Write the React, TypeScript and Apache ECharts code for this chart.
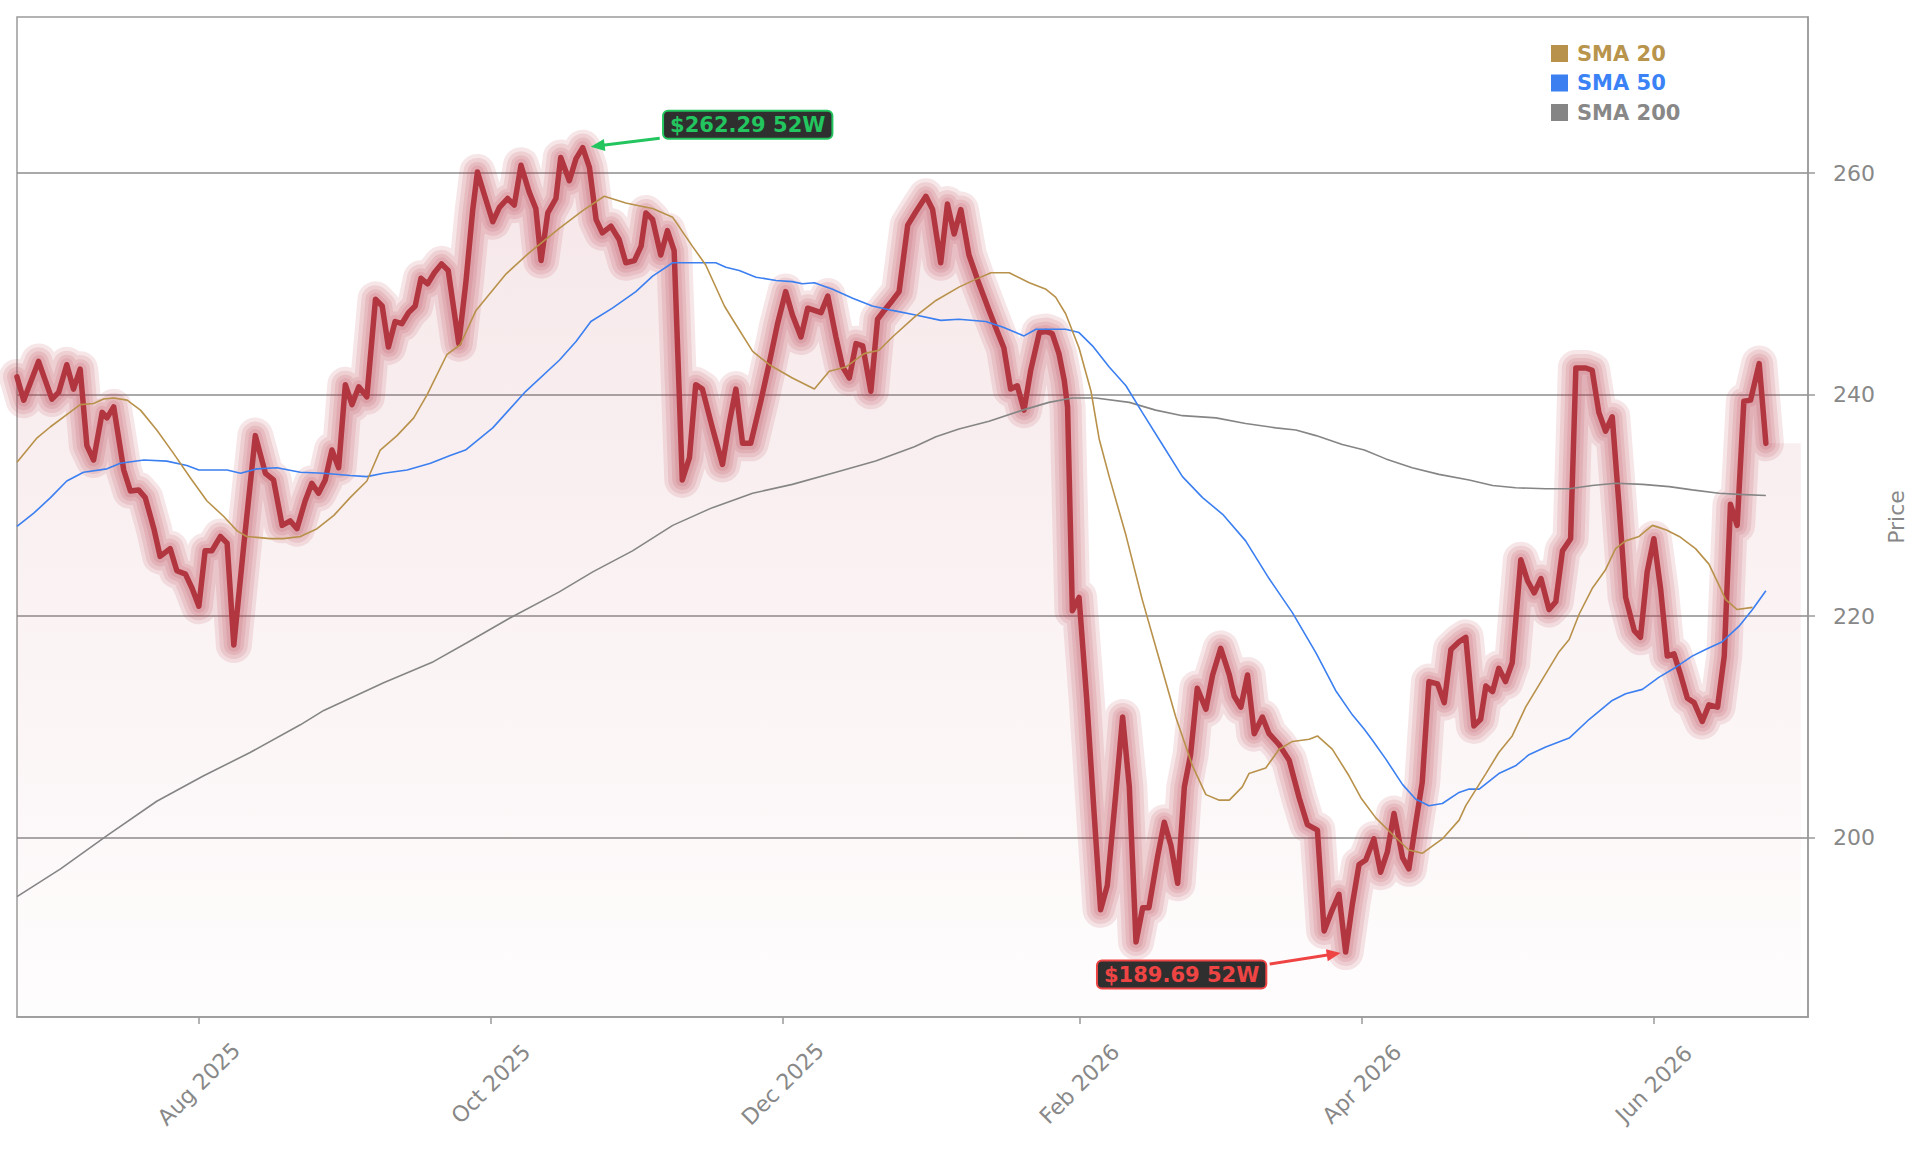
import React, { useEffect, useRef } from 'react';
import * as echarts from 'echarts';

// x values are days since 2025-06-24
const START_UTC = Date.UTC(2025, 5, 24);
const DAY_MS = 86400000;

const priceDays = [
  0, 1.4, 4.5, 7.3, 8.7, 10.4, 11.8, 13.2, 14.6, 16.0, 17.8, 18.8, 20.2, 22.3, 23.7, 25.4, 26.8, 28.6, 29.9, 32.0,
  33.4, 35.2, 36.6, 38.0, 39.3, 40.7, 42.5, 43.9, 45.3, 47.4, 49.8, 51.9, 53.6, 55.4, 57.1, 58.5, 60.2, 61.6, 63.0, 64.4,
  65.8, 67.2, 68.6, 70.0, 71.4, 73.1, 74.9, 76.3, 77.6, 79.0, 80.4, 81.8, 83.2, 84.4, 85.8, 87.2, 88.7, 90.1, 92.3, 93.8,
  95.2, 96.2, 97.6, 99.4, 100.8, 102.5, 103.9, 105.3, 107.0, 108.4, 109.5, 110.9, 112.6, 113.6, 115.4, 116.8, 118.2, 119.6, 121.0, 122.3,
  124.1, 125.8, 127.2, 129.0, 130.4, 131.4, 132.8, 134.5, 135.9, 137.3, 139.0, 140.5, 141.8, 143.2, 145.3, 147.4, 148.8, 150.2, 151.6, 153.3,
  155.4, 157.2, 158.9, 160.6, 162.0, 163.8, 165.2, 166.6, 168.0, 169.4, 171.1, 172.5, 173.9, 175.3, 176.7, 178.4, 179.8, 181.2, 182.9, 184.3,
  186.1, 187.8, 189.9, 191.3, 193.0, 194.4, 195.8, 197.2, 198.9, 201.0, 203.1, 204.9, 206.2, 207.6, 209.0, 210.4, 211.8, 213.6, 215.0, 216.3,
  217.7, 218.8, 219.5, 220.5, 221.9, 223.5, 225.0, 226.4, 227.8, 229.6, 231.0, 232.4, 233.8, 235.2, 236.5, 238.3, 239.7, 241.1, 242.5, 243.9,
  245.2, 246.6, 248.4, 249.8, 251.5, 253.3, 254.3, 255.7, 257.1, 258.5, 260.2, 261.6, 263.7, 265.8, 267.9, 269.6, 271.7, 273.1, 274.8, 276.2,
  277.6, 279.0, 280.4, 281.8, 283.5, 284.9, 286.3, 287.7, 289.5, 290.8, 292.2, 293.6, 295.0, 296.8, 298.2, 299.6, 301.3, 302.7, 304.4, 305.8,
  306.9, 308.3, 309.6, 311.0, 312.4, 314.2, 315.6, 317.0, 318.4, 320.1, 321.5, 322.9, 324.6, 325.7, 327.8, 329.1, 330.5, 331.9, 333.3, 334.7,
  336.1, 337.9, 339.2, 340.6, 342.0, 343.4, 344.8, 346.2, 347.6, 349.0, 350.4, 352.1, 353.5, 355.3, 356.7, 358.0, 359.4, 360.8, 362.2, 364.0,
  365.4,
];
const priceValues = [
  241.6, 239.5, 243.0, 239.6, 240.2, 242.7, 240.5, 242.3, 235.4, 234.1, 238.4, 237.9, 238.9, 233.2, 231.3, 231.4, 230.7, 227.9, 225.4, 226.1,
  224.1, 223.8, 222.5, 220.9, 225.9, 225.9, 227.2, 226.6, 217.4, 226.5, 236.3, 232.9, 232.3, 228.2, 228.6, 227.9, 230.4, 232.0, 231.1, 232.3,
  235.0, 233.4, 240.9, 239.1, 240.7, 239.8, 248.6, 248.0, 244.3, 246.6, 246.4, 247.4, 248.0, 250.5, 250.0, 251.0, 251.8, 251.2, 244.6, 250.2,
  256.6, 260.1, 258.1, 255.6, 256.9, 257.7, 257.1, 260.7, 258.3, 256.8, 252.1, 256.4, 257.7, 261.4, 259.3, 261.3, 262.29, 260.5, 255.8, 254.6,
  255.2, 254.0, 251.9, 252.1, 253.4, 256.4, 255.8, 252.6, 254.8, 253.0, 232.3, 234.3, 240.9, 240.5, 237.0, 233.7, 237.4, 240.5, 235.6, 235.6,
  239.4, 242.9, 246.4, 249.3, 247.2, 245.2, 247.8, 247.6, 247.4, 248.9, 245.2, 242.5, 241.5, 244.6, 244.4, 240.3, 246.8, 247.6, 248.5, 249.3,
  255.3, 256.5, 257.9, 256.7, 251.9, 257.2, 254.5, 256.7, 252.6, 250.0, 247.6, 245.6, 244.2, 240.5, 240.8, 238.6, 242.2, 245.6, 245.7, 245.5,
  243.7, 241.3, 238.9, 220.5, 221.7, 212.5, 202.5, 193.5, 195.7, 204.1, 210.9, 204.6, 190.6, 193.7, 193.7, 198.3, 201.4, 199.3, 195.9, 204.6,
  207.5, 213.5, 211.6, 214.7, 217.1, 214.7, 212.8, 211.8, 214.7, 209.4, 210.9, 209.4, 208.4, 207.0, 203.6, 201.2, 200.7, 191.6, 193.5, 194.9,
  189.69, 194.0, 197.6, 198.0, 199.9, 196.9, 198.7, 202.2, 198.2, 197.2, 201.2, 205.0, 214.1, 213.9, 212.2, 217.0, 217.7, 218.1, 210.1, 210.7,
  213.7, 213.2, 215.3, 214.1, 215.8, 225.1, 223.2, 222.1, 223.4, 220.6, 221.3, 225.9, 227.0, 242.4, 242.4, 242.2, 238.4, 236.7, 238.0, 230.1,
  221.7, 218.7, 218.1, 224.0, 227.0, 222.5, 216.4, 216.6, 214.7, 212.6, 212.2, 210.5, 212.0, 211.8, 216.4, 230.1, 228.2, 239.4, 239.5, 242.8,
  235.6,
];

const sma20Days = [
  0, 4.2, 7, 10.4, 13.2, 16, 18.1, 20.2, 23, 25.8, 29.2, 32.7, 36.2, 39.7, 43.2, 46, 48, 52.9, 55.7, 59.2,
  62.7, 66.2, 69.6, 73.1, 75.9, 79.4, 82.9, 85.7, 89.8, 92.6, 95.9, 102.2, 107, 113.3, 118.2, 122.7, 127.2, 130.4, 132.8, 137,
  141.1, 143.9, 147.8, 149.5, 153.7, 157.2, 162, 166.6, 169.7, 173.2, 177, 180.1, 182.9, 187.5, 192, 196.8, 200.3, 203.5, 207.3, 211.5,
  215, 217, 219.1, 221.9, 224.4, 226.1, 228.2, 231.7, 235.1, 238.6, 242.1, 245.6, 248.4, 251.2, 253.3, 256, 257.4, 260.9, 263.7, 266.5,
  270, 271.7, 274.8, 278.3, 280.8, 283.9, 287.4, 290.8, 293.6, 297.8, 301.3, 302.7, 306.9, 309.6, 312.4, 315.2, 318.7, 322.2, 324.3, 326.4,
  329.1, 331.9, 334, 336.1, 338.9, 341.7, 344.5, 347.3, 350.7, 353.5, 355.6, 357, 359.4, 362.6,
];
const sma20Values = [
  233.9, 236.1, 237.1, 238.2, 239.1, 239.2, 239.6, 239.7, 239.5, 238.6, 236.8, 234.7, 232.5, 230.4, 229.0, 227.7, 227.2, 227.0, 227.0, 227.2,
  227.9, 229.1, 230.7, 232.2, 235.0, 236.3, 237.9, 240.0, 243.6, 244.5, 247.6, 250.9, 252.8, 255.0, 256.6, 257.9, 257.3, 257.0, 256.8, 256.0,
  253.4, 251.7, 248.0, 246.8, 243.9, 242.7, 241.5, 240.5, 242.1, 242.5, 243.7, 244.0, 245.2, 247.0, 248.5, 249.7, 250.4, 251.0, 251.0, 250.1,
  249.5, 248.8, 247.3, 244.2, 240.3, 236.0, 232.6, 227.3, 221.5, 216.2, 210.9, 206.5, 203.9, 203.4, 203.4, 204.6, 205.8, 206.3, 208.0, 208.7,
  208.9, 209.2, 208.0, 205.6, 203.6, 201.8, 200.3, 198.9, 198.6, 199.9, 201.6, 202.9, 205.8, 207.7, 209.2, 211.8, 214.3, 216.8, 217.9, 220.2,
  222.5, 224.2, 226.1, 226.8, 227.2, 228.2, 227.8, 227.2, 226.1, 224.7, 222.8, 221.5, 220.6, 220.8,
];

const sma50Days = [
  0, 3.5, 7, 10.4, 13.9, 18.8, 21.6, 26.5, 31.3, 35.5, 38, 43.9, 46.7, 50.1, 54.3, 59.2, 64.1, 69.6, 73.1, 76.6,
  81.5, 86.4, 90.5, 93.7, 99.4, 106.3, 113.3, 116.8, 119.9, 124.4, 129.3, 132.8, 137, 141.1, 146, 148.1, 150.9, 154.4, 158.6, 162,
  164.1, 166.6, 170.4, 174.6, 178.7, 182.9, 187.5, 193, 196.8, 202.4, 205.9, 210.4, 212.9, 219.1, 221.9, 224.7, 228.2, 231.7, 235.1, 239.3,
  243.5, 247.7, 251.9, 256.7, 261.6, 266.5, 271.4, 275.5, 279, 281.5, 283.2, 286, 289.5, 292.2, 295, 297.8, 301.3, 303.4, 305.5, 309.6,
  313.1, 315.9, 319.4, 324.3, 328.5, 333.3, 336.1, 339.6, 343.1, 346.6, 350, 352.8, 356.3, 359.8, 362.6, 365.4,
];
const sma50Values = [
  228.1, 229.3, 230.7, 232.2, 233.0, 233.3, 233.8, 234.1, 234.0, 233.6, 233.2, 233.2, 232.9, 233.3, 233.4, 233.0, 232.9, 232.7, 232.6, 232.9,
  233.2, 233.8, 234.5, 235.0, 237.0, 240.3, 243.1, 244.8, 246.6, 247.8, 249.3, 250.7, 251.9, 251.9, 251.9, 251.5, 251.2, 250.6, 250.3, 250.2,
  250.0, 250.1, 249.5, 248.7, 248.0, 247.6, 247.2, 246.7, 246.8, 246.6, 246.1, 245.3, 245.9, 245.9, 245.6, 244.4, 242.5, 240.8, 238.4, 235.5,
  232.6, 230.7, 229.2, 226.8, 223.4, 220.3, 216.7, 213.3, 211.1, 209.8, 208.8, 207.1, 204.8, 203.5, 202.9, 203.1, 204.1, 204.4, 204.4, 205.8,
  206.5, 207.5, 208.2, 209.0, 210.7, 212.4, 213.0, 213.4, 214.5, 215.4, 216.4, 217.0, 217.7, 219.1, 220.6, 222.3,
];

const sma200Days = [
  0, 9.1, 18.8, 29.2, 39, 48.7, 59.2, 64.1, 76.6, 87, 94, 102.8, 113.3, 120.3, 128.6, 137, 145.3, 153.7, 162, 171.1,
  179.4, 187.5, 192, 196.8, 203.1, 210.1, 215.6, 220.5, 225.4, 232.4, 237.9, 243.5, 250.5, 256.7, 263, 267.2, 271.4, 276.9, 281.5, 286,
  291.5, 297.1, 303.4, 308.3, 313.1, 319.4, 324.3, 329.1, 334, 339.6, 345.2, 350, 355.6, 359.8, 365.4,
];
const sma200Values = [
  194.7, 197.2, 200.2, 203.3, 205.6, 207.7, 210.2, 211.5, 214.0, 215.9, 217.6, 219.8, 222.2, 224.0, 225.9, 228.2, 229.8, 231.1, 231.9, 233.0,
  234.0, 235.3, 236.2, 236.9, 237.6, 238.6, 239.3, 239.7, 239.7, 239.3, 238.6, 238.1, 237.9, 237.4, 237.0, 236.8, 236.3, 235.5, 235.0, 234.2,
  233.4, 232.8, 232.3, 231.8, 231.6, 231.5, 231.5, 231.8, 232.0, 231.9, 231.7, 231.4, 231.1, 231.0, 230.9,
];

const xTickDates = ['2025-08-01', '2025-10-01', '2025-12-01', '2026-02-01', '2026-04-01', '2026-06-01'];
const yTicks = [200, 220, 240, 260];
const MONTHS = ['Jan', 'Feb', 'Mar', 'Apr', 'May', 'Jun', 'Jul', 'Aug', 'Sep', 'Oct', 'Nov', 'Dec'];

const high52 = { day: 118.2, value: 262.29, label: '$262.29 52W' };
const low52 = { day: 277.6, value: 189.69, label: '$189.69 52W' };
const areaTailDay = 372.7;
const axisMinDay = 0;
const axisMaxDay = 374.2;
const yMin = 183.83;
const yMax = 274.08;

const FONT = '"DejaVu Sans", Verdana, sans-serif';
const toTs = (d: number) => START_UTC + d * DAY_MS;
const pairs = (days: number[], vals: number[]) => days.map((d, i) => [toTs(d), vals[i]]);

function arrow(x1: number, y1: number, x2: number, y2: number, color: string) {
  const dx = x2 - x1;
  const dy = y2 - y1;
  const len = Math.sqrt(dx * dx + dy * dy);
  const ux = dx / len;
  const uy = dy / len;
  const nx = -uy;
  const ny = ux;
  const hl = 14;
  const hw = 6;
  const bx = x2 - ux * hl;
  const by = y2 - uy * hl;
  return [
    {
      type: 'line',
      z: 100,
      silent: true,
      shape: { x1, y1, x2: x2 - ux * 10, y2: y2 - uy * 10 },
      style: { stroke: color, lineWidth: 3 },
    },
    {
      type: 'polygon',
      z: 100,
      silent: true,
      shape: { points: [[x2, y2], [bx + nx * hw, by + ny * hw], [bx - nx * hw, by - ny * hw]] },
      style: { fill: color },
    },
  ];
}

function badge(cx: number, cy: number, text: string, color: string) {
  return {
    type: 'text',
    z: 101,
    silent: true,
    x: cx,
    y: cy,
    style: {
      text,
      align: 'center',
      verticalAlign: 'middle',
      fill: color,
      font: `bold 21px ${FONT}`,
      backgroundColor: '#2f2f2f',
      borderColor: color,
      borderWidth: 2,
      borderRadius: 4,
      padding: [3, 6, 2, 6],
    },
  };
}

export default function App() {
  const ref = useRef<HTMLDivElement>(null);

  useEffect(() => {
    if (!ref.current) return;
    const chart = echarts.init(ref.current, null, { renderer: 'svg' });

    const priceData = pairs(priceDays, priceValues);
    const areaData = [...priceData, [toTs(areaTailDay), priceValues[priceValues.length - 1]]];
    const glowWidths = [36, 28, 20, 13];

    const glowSeries = glowWidths.map((w, i) => ({
      type: 'line',
      name: 'glow' + i,
      data: priceData,
      symbol: 'none',
      silent: true,
      z: 2,
      lineStyle: { width: w, color: 'rgba(180,52,66,0.12)', cap: 'round', join: 'round' },
    }));

    const smaSeries = (name: string, days: number[], vals: number[], color: string) => ({
      type: 'line',
      name,
      data: pairs(days, vals),
      symbol: 'none',
      silent: true,
      z: 4,
      itemStyle: { color },
      lineStyle: { width: 1.6, color },
    });

    const option: any = {
      animation: false,
      backgroundColor: '#ffffff',
      grid: {
        left: 17,
        right: 113,
        top: 17,
        bottom: 134,
        show: true,
        borderColor: '#9a9a9a',
        borderWidth: 1.5,
        backgroundColor: 'transparent',
      },
      legend: {
        orient: 'vertical',
        left: 1551,
        top: 43,
        padding: 0,
        itemWidth: 17,
        itemHeight: 17,
        itemGap: 8.5,
        icon: 'rect',
        selectedMode: false,
        textStyle: { fontFamily: FONT, fontWeight: 'bold', fontSize: 21, lineHeight: 17, padding: [0, 0, 0, 4] },
        data: [
          { name: 'SMA 20', textStyle: { color: '#b8944c' } },
          { name: 'SMA 50', textStyle: { color: '#3b82f6' } },
          { name: 'SMA 200', textStyle: { color: '#888888' } },
        ],
      },
      xAxis: {
        type: 'value',
        min: toTs(axisMinDay),
        max: toTs(axisMaxDay),
        axisLine: { show: true, lineStyle: { color: '#9a9a9a', width: 1.5 } },
        axisTick: {
          show: true,
          length: 7,
          lineStyle: { color: '#9a9a9a', width: 1.5 },
          customValues: xTickDates.map((s) => Date.parse(s + 'T00:00:00Z')),
        },
        axisLabel: {
          customValues: xTickDates.map((s) => Date.parse(s + 'T00:00:00Z')),
          rotate: 45,
          align: 'center',
          verticalAlign: 'middle',
          margin: 67,
          color: '#888888',
          fontFamily: FONT,
          fontSize: 22,
          formatter: (v: number) => {
            const dt = new Date(v);
            return MONTHS[dt.getUTCMonth()] + ' ' + dt.getUTCFullYear();
          },
        },
        splitLine: { show: false },
      },
      yAxis: {
        type: 'value',
        position: 'right',
        min: yMin,
        max: yMax,
        name: 'Price',
        nameLocation: 'middle',
        nameGap: 65,
        nameRotate: 90,
        nameTextStyle: { color: '#888888', fontFamily: FONT, fontSize: 22 },
        axisLine: { show: true, lineStyle: { color: '#9a9a9a', width: 1.5 } },
        axisTick: { show: true, length: 7, lineStyle: { color: '#9a9a9a', width: 1.5 }, customValues: yTicks },
        axisLabel: { customValues: yTicks, color: '#888888', fontFamily: FONT, fontSize: 22, margin: 25 },
        splitLine: { show: true, lineStyle: { color: '#8c8c8c', width: 1.5 } },
      },
      series: [
        {
          type: 'line',
          name: 'area',
          data: areaData,
          symbol: 'none',
          silent: true,
          z: 1,
          lineStyle: { width: 0 },
          areaStyle: {
            origin: 'start',
            color: new echarts.graphic.LinearGradient(0, 0, 0, 1, [
              { offset: 0, color: 'rgba(180,52,66,0.17)' },
              { offset: 1, color: 'rgba(180,52,66,0.015)' },
            ]),
          },
        },
        ...glowSeries,
        {
          type: 'line',
          name: 'Close',
          data: priceData,
          symbol: 'none',
          silent: true,
          z: 3,
          lineStyle: { width: 5.5, color: '#b2363f', cap: 'round', join: 'round' },
        },
        smaSeries('SMA 200', sma200Days, sma200Values, '#858585'),
        smaSeries('SMA 50', sma50Days, sma50Values, '#3b7ff0'),
        smaSeries('SMA 20', sma20Days, sma20Values, '#b8914a'),
      ],
    };

    chart.setOption(option);

    const hp = chart.convertToPixel({ xAxisIndex: 0, yAxisIndex: 0 }, [toTs(high52.day), high52.value]) as number[];
    const lp = chart.convertToPixel({ xAxisIndex: 0, yAxisIndex: 0 }, [toTs(low52.day), low52.value]) as number[];

    chart.setOption({
      graphic: [
        ...arrow(hp[0] + 77, hp[1] - 9.5, hp[0] + 8, hp[1] - 1, '#22c55e'),
        badge(hp[0] + 165, hp[1] - 23, high52.label, '#22c55e'),
        ...arrow(lp[0] - 76, lp[1] + 12, lp[0] - 5, lp[1] + 1, '#ef4444'),
        badge(lp[0] - 164, lp[1] + 22.5, low52.label, '#ef4444'),
      ],
    });

    return () => chart.dispose();
  }, []);

  return (
    <div
      ref={ref}
      style={{ position: 'fixed', left: 0, top: 0, width: '1921px', height: '1151px', background: '#fff' }}
    />
  );
}
